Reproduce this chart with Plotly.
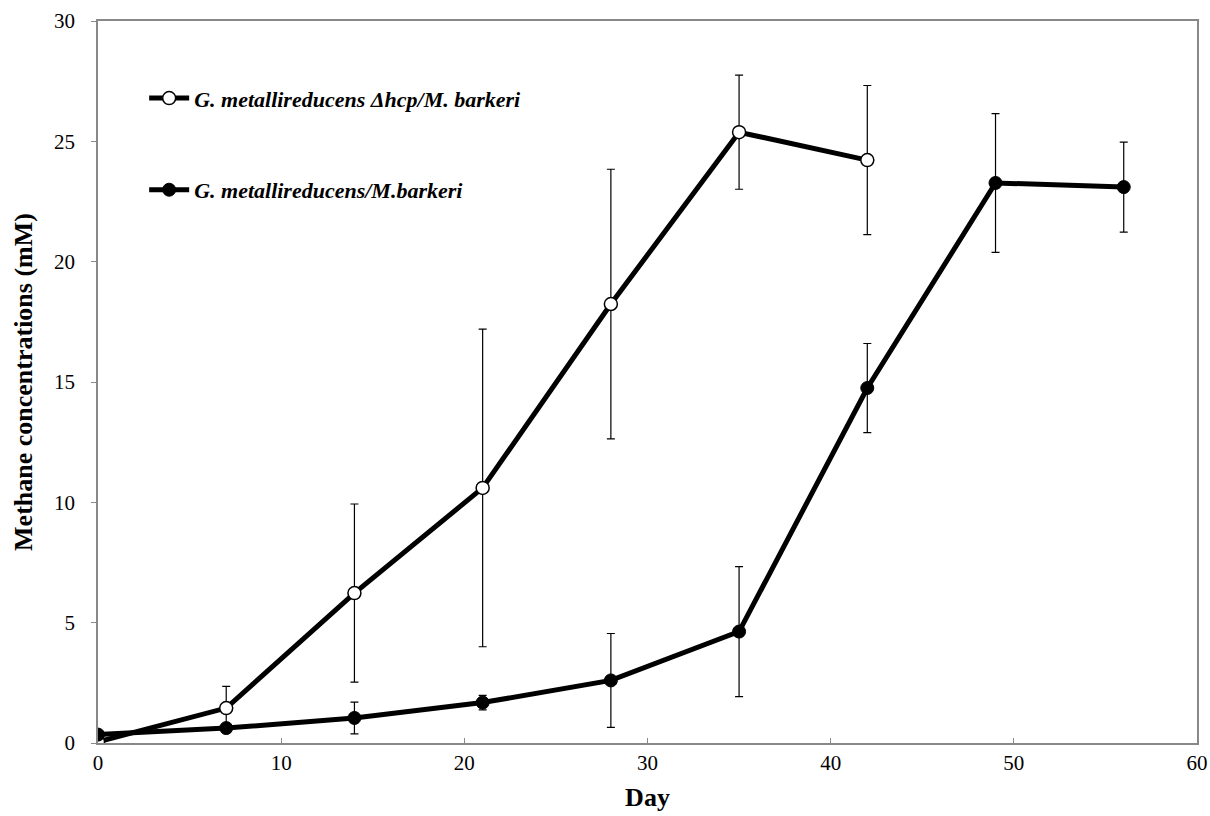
import plotly.graph_objects as go

days_hcp = [0, 7, 14, 21, 28, 35, 42]
methane_hcp = [0.05, 1.45, 6.23, 10.6, 18.24, 25.38, 24.22]
err_hcp = [0.0, 0.9, 3.7, 6.6, 5.6, 2.37, 3.1]

days_wt = [0, 7, 14, 21, 28, 35, 42, 49, 56]
methane_wt = [0.35, 0.62, 1.04, 1.68, 2.6, 4.63, 14.75, 23.27, 23.1]
err_wt = [0.0, 0.15, 0.66, 0.3, 1.95, 2.7, 1.85, 2.88, 1.87]

name_hcp = "<b><i>G. metallireducens Δhcp/M. barkeri</i></b>"
name_wt = "<b><i>G. metallireducens/M.barkeri</i></b>"

x_ticks = [0, 10, 20, 30, 40, 50, 60]
y_ticks = [0, 5, 10, 15, 20, 25, 30]

fig = go.Figure()
fig.add_trace(go.Scatter(
    x=days_hcp, y=methane_hcp, name=name_hcp, mode="lines+markers",
    line=dict(color="black", width=5),
    marker=dict(symbol="circle", size=13, color="white", line=dict(color="black", width=1.5)),
    error_y=dict(type="data", array=err_hcp, visible=True, color="black", thickness=1.2, width=4),
    legendgroup="a",
))
fig.add_trace(go.Scatter(
    x=days_wt, y=methane_wt, name=name_wt, mode="lines+markers",
    line=dict(color="black", width=5),
    marker=dict(symbol="circle", size=13, color="black", line=dict(color="black", width=1)),
    error_y=dict(type="data", array=err_wt, visible=True, color="black", thickness=1.2, width=4),
    legendgroup="b",
))

fig.update_layout(
    width=1210, height=816,
    margin=dict(l=98, r=13, t=21, b=73),
    paper_bgcolor="white", plot_bgcolor="white",
    font=dict(family="Liberation Serif", size=20, color="black"),
    showlegend=True,
    legend=dict(
        x=0.042, y=0.922, xanchor="left", yanchor="top",
        bgcolor="rgba(0,0,0,0)", tracegroupgap=60,
        font=dict(family="Liberation Serif", size=22, color="black"),
        itemwidth=40,
    ),
    xaxis=dict(
        range=[0, 60], tickvals=x_ticks, ticktext=[str(v) for v in x_ticks],
        ticks="inside", ticklen=5, tickcolor="#888", tickwidth=1,
        showline=True, linecolor="#888", linewidth=1.5, mirror=True,
        showgrid=False, zeroline=False, automargin=False,
        title=dict(text="<b>Day</b>", font=dict(family="Liberation Serif", size=26), standoff=14),
        tickfont=dict(family="Liberation Serif", size=21),
    ),
    yaxis=dict(
        range=[0, 30], tickvals=y_ticks, ticktext=[str(v) for v in y_ticks],
        ticks="outside", ticklen=5, tickcolor="#888", tickwidth=1,
        showline=True, linecolor="#888", linewidth=1.5, mirror=True,
        showgrid=False, zeroline=False, ticklabelstandoff=12, automargin=False,
        title=dict(text="<b>Methane concentrations (mM)</b>", font=dict(family="Liberation Serif", size=26), standoff=14),
        tickfont=dict(family="Liberation Serif", size=21),
    ),
)

fig.write_html(
    "out.html",
    config={"displayModeBar": False},
    post_script="document.body.style.margin='0';document.body.style.overflow='hidden';",
)
